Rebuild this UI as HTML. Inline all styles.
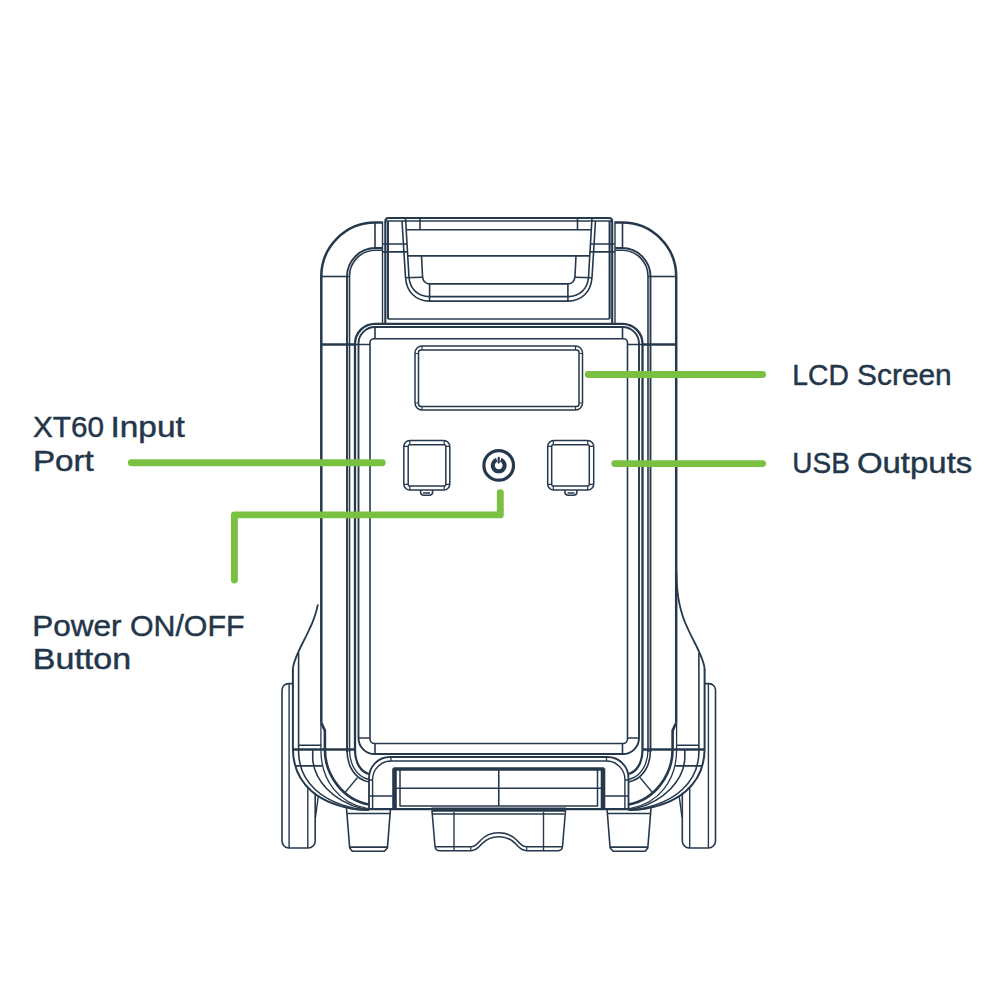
<!DOCTYPE html>
<html><head><meta charset="utf-8">
<style>
html,body{margin:0;padding:0;background:#fff;}
body{width:1000px;height:1000px;overflow:hidden;}
svg{display:block;}
text{font-family:"Liberation Sans",sans-serif;fill:#24364a;stroke:#24364a;stroke-width:0.45px;}
</style></head><body>
<svg width="1000" height="1000" viewBox="0 0 1000 1000">
<rect width="1000" height="1000" fill="#ffffff"/>
<defs>
<clipPath id="cf"><rect x="200" y="604.6" width="200" height="100"/></clipPath>
<clipPath id="cl"><rect x="0" y="0" width="499" height="1000"/></clipPath>
<clipPath id="cr"><rect x="499" y="0" width="501" height="1000"/></clipPath>
<g id="half" fill="none" stroke="#26384c" stroke-width="1.6" stroke-linecap="butt" stroke-linejoin="round">
  <!-- outer frame -->
  <path d="M321.3 722.8 L321.3 276.5 A54 54 0 0 1 375.3 222.5 L382.5 222.5" stroke-width="2.5"/>
  <path d="M321.3 276.5 L349.5 276.5"/>
  <path d="M347 752 L347 276.5 A28.5 28.5 0 0 1 375.5 248 L382.5 248" stroke-width="1.9"/>
  <path d="M349.5 752 L349.5 276.5 A26 26 0 0 1 375.5 250.2 L382.5 250.2" stroke-width="1.6"/>
  <path d="M375 222.5 L375 248"/>
  <path d="M382.5 221.5 L382.5 324" stroke-width="1.4"/>
  <path d="M385.3 324 L385.3 221.5 Q385.3 218 388.5 218 L503 218" stroke-width="2.1"/>
  <path d="M387.9 221 L387.9 319" stroke-width="2.1"/><path d="M388 319 L503 319"/>
  <path d="M385 221 L503 221"/>
  <!-- handle -->
  <path d="M402 221 L405.5 277.5 C406.5 292 416 301.1 429.6 301.1 L503 301.1"/>
  <path d="M405.5 218 L409 277.5 C410 289 418 296.6 429.6 296.6 L503 296.6"/>
  <path d="M382.5 244 L407 244 M382.5 251.9 L407.5 251.9"/>
  <path d="M406.3 229.7 L503 229.7 M420 218 L420 229.7"/>
  <path d="M407.7 255.9 L503 255.9"/>
  <path d="M421.5 255.9 L422.5 276 Q423 283.9 429.6 283.9 L503 283.9"/>
  <path d="M405.5 277.8 L422.5 277.2 M429.6 283.9 L429.6 301.1"/>
  <!-- front panel -->
  <path d="M503 323.8 L375 323.8 A20 20 0 0 0 355 343.8 L355 750 C355 763 361 772 369 774" stroke-width="2.3"/>
  <path d="M503 327 L375 327 A16.5 16.5 0 0 0 358.5 343.5 L358.5 738 A16 16 0 0 0 374.5 754 L503 754" stroke-width="1.9"/>
  <path d="M503 338.7 L374 338.7 A4 4 0 0 0 370 342.7 L370 739 A4.5 4.5 0 0 0 374.5 743.5 L503 743.5"/>
  <path d="M375 327 L375 338.7 M375 743.5 L375 754 M355 344.5 L370 344.5 M358.5 738 L370 738"/>
  <path d="M321.3 344.5 L355 344.5" stroke-width="2.3"/>
  <path d="M293 749.5 L355 749.5" stroke-width="2.3"/>
  <!-- LCD -->
  <path d="M503 346 L422 346 A7 7 0 0 0 415 353 L415 403 A7 7 0 0 0 422 410 L503 410" stroke-width="1.5"/>
  <path d="M503 350 L421 350 A2.5 2.5 0 0 0 418.5 352.5 L418.5 404 A2.5 2.5 0 0 0 421 406.5 L503 406.5" stroke-width="1.5"/>
  <path d="M422 346 L422 350 M422 406.5 L422 410 M415 353.5 L418.5 353.5 M415 403 L418.5 403" stroke-width="1.2"/>
  <!-- port -->
  <rect x="403.8" y="440.4" width="46" height="49.6" rx="6" ry="6" stroke-width="1.5"/>
  <rect x="408.2" y="444.8" width="37.6" height="41.2" rx="1.5" ry="1.5" stroke-width="1.5"/>
  <path d="M409.8 440.4 L409.8 444.8 M444.2 440.4 L444.2 444.8 M409.8 486 L409.8 490 M444.2 486 L444.2 490 M403.8 446.4 L408.2 446.4 M445.8 446.4 L449.8 446.4 M403.8 484.4 L408.2 484.4 M445.8 484.4 L449.8 484.4" stroke-width="1.2"/>
  <path d="M420.6 490 L420.6 492 Q420.6 495.2 424 495.2 L429.2 495.2 Q432.6 495.2 432.6 492 L432.6 490 M423 493 L430 493" stroke-width="1.6"/>
  <!-- lower left -->
  <path d="M320.9 722.8 L320.9 749.5 C320.9 782 340 803 366 808.2 L369 808.7" stroke-width="1.3"/>
  <path d="M321.3 722.8 L324.9 730.6 L324.9 749.5 C324.9 775 343 800 369 804.5" stroke-width="2.6"/>
  <path d="M312.7 749.5 L312.7 758 C313.5 780 333 801 362 808.6 L369 809.2"/>
  <path d="M298.6 653 L298.6 752 C299 782 322 803 360 809.2 L369 809.6"/>
  <path d="M292.9 669 L292.9 749.5 C293.5 785 320 805 360 809.7 L369 809.9" stroke-width="2"/>
  <path d="M298.6 745.3 L321.4 745.3 M295.4 765.9 L322.3 765.9"/>
  <!-- wheel -->
  <path d="M292.9 683.6 L288.5 683.6 A6.5 6.5 0 0 0 282 690.1 L282 841 A7 7 0 0 0 289 848 L308.2 848 A7 7 0 0 0 315.2 841 L315.2 792.8"/>
  <path d="M318.3 796.2 L315.5 817.5" stroke-width="1.4"/>
  <path d="M289.1 683.6 L289.1 848 M307.8 787.6 L307.8 848" stroke-width="1.4"/>
  <!-- inner corner arcs -->
  <path d="M347 750 C347 765 354 779 369 782"/>
  <path d="M349.5 750 C349.5 763 356 777 369 779.5" stroke-width="1.3"/>
  <path d="M345.5 792 L357.5 777.5" stroke-width="1.3"/>
  <!-- base -->
  <path d="M369 809 L369 778 A21 21 0 0 1 390 757 L503 757" stroke-width="1.8"/>
  <path d="M372.6 809 L372.6 779.4 A18.4 18.4 0 0 1 391 761 L503 761" stroke-width="1.4"/>
  <path d="M391 757 L391 761" stroke-width="1.3"/>
  <path d="M369 796 L392.5 796 M369 780 L372.5 780" stroke-width="1.4"/>
  <!-- slot -->
  <path d="M503 769 L393.5 769" stroke-width="3.5"/><path d="M394.5 768.3 L394.5 809" stroke-width="4.6"/>
  <path d="M400 770 L400 806 L503 806 M396 788.3 L503 788.3" stroke-width="1.5"/>
  <path d="M369 809.2 L432 809.2" stroke-width="2.3"/>
  <!-- left foot -->
  <path d="M346.5 808.3 L349.7 848 L352.3 851.3 L384.3 851.3 L387.4 848 L390.4 810" stroke-width="1.6"/>
  <path d="M346.9 813.5 L390.1 813.5 M349.7 847.1 L387.4 847.1" stroke-width="1.6"/>
  <!-- center foot -->
  <path d="M431.5 809.65 L503 809.65" stroke-width="4.1"/>
  <path d="M433 814 L503 814" stroke-width="1.3"/>
  <path d="M432 811 L435 846.5 Q435.4 850.8 440 850.8 L470.8 850.8 C476.5 850.8 478.8 847.2 481.6 844 C486.5 838.8 492 836.7 498.6 836.7 L503 836.7" stroke-width="1.55"/>
  <path d="M435.3 846.8 L470.8 846.8 C475.5 846.8 477.5 843.8 480.4 840.5 C485.5 835 491.5 832.8 498.6 832.8 L503 832.8" stroke-width="1.55"/>
  <path d="M470.8 846.8 L470.8 850.8" stroke-width="1.2"/>
  <path d="M454 812 L454 850.8" stroke-width="1.4"/>
</g>
</defs>
<g clip-path="url(#cl)"><use href="#half"/></g>
<g clip-path="url(#cr)"><use href="#half" transform="translate(997.5,0) scale(-1,1)"/></g>
<g fill="none" stroke="#26384c" stroke-width="1.6">
  <!-- centre divider -->
  <path d="M498.75 770 L498.75 806"/>
  <!-- flares -->
  <path id="flare" d="M676.4 572 C676.4 595 680 613 688 629 C694 642.5 704.6 659 704.6 669.5" stroke-width="1.8"/>
  <g clip-path="url(#cf)"><use href="#flare" transform="translate(997.5,0) scale(-1,1)"/></g>
  <!-- power button -->
  <circle cx="498.7" cy="465.4" r="14.8" stroke-width="3.2"/>
  <path d="M496.7 459.9 A5.9 5.9 0 1 0 500.7 459.9" stroke-width="4"/>
  <path d="M498.7 457.8 L498.7 462.6" stroke-width="2.2" stroke-linecap="round"/>
</g>
<!-- green callouts -->
<g fill="none" stroke="#7ac142" stroke-width="6.9" stroke-linecap="round" stroke-linejoin="round">
  <path d="M131.3 462.7 L382.2 462.7"/>
  <path d="M500.3 492.8 L500.3 514.9 L234.4 514.9 L234.4 580"/>
  <path d="M588.3 374.5 L762.6 374.5"/>
  <path d="M614.8 463.6 L762.6 463.6"/>
</g>
<g font-size="29.4">
<text y="437.4"><tspan x="33.00" textLength="70.98" lengthAdjust="spacingAndGlyphs">XT60</tspan> <tspan x="110.50" textLength="74.32" lengthAdjust="spacingAndGlyphs">Input</tspan></text>
<text y="470.7"><tspan x="32.90" textLength="60.92" lengthAdjust="spacingAndGlyphs">Port</tspan></text>
<text y="635.5"><tspan x="32.20" textLength="89.32" lengthAdjust="spacingAndGlyphs">Power</tspan> <tspan x="130.01" textLength="114.45" lengthAdjust="spacingAndGlyphs">ON/OFF</tspan></text>
<text y="669.3"><tspan x="32.77" textLength="98.37" lengthAdjust="spacingAndGlyphs">Button</tspan></text>
<text y="384.6"><tspan x="792.34" textLength="56.49" lengthAdjust="spacingAndGlyphs">LCD</tspan> <tspan x="857.13" textLength="94.54" lengthAdjust="spacingAndGlyphs">Screen</tspan></text>
<text y="473.2"><tspan x="792.36" textLength="57.47" lengthAdjust="spacingAndGlyphs">USB</tspan> <tspan x="856.92" textLength="115.41" lengthAdjust="spacingAndGlyphs">Outputs</tspan></text>
</g>
</svg>
</body></html>
